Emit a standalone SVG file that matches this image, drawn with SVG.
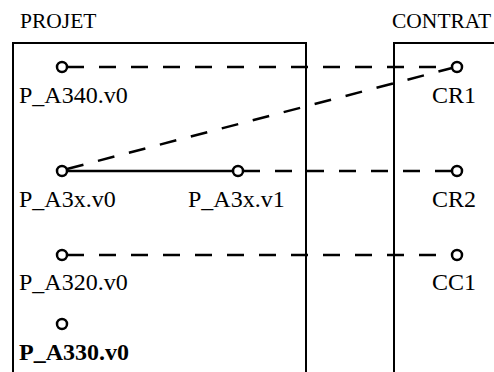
<svg xmlns="http://www.w3.org/2000/svg" width="494" height="372" viewBox="0 0 494 372">
<style>
text{font-family:"Liberation Serif","Times New Roman",serif;font-size:24px;fill:#000}
.title{font-size:21.5px}
.b{font-weight:bold}
.box{fill:none;stroke:#000;stroke-width:2}
.pt{fill:#fff;stroke:#000;stroke-width:2.5}
.dash{stroke:#000;stroke-width:2.5;fill:none;stroke-dasharray:17 15}
.solid{stroke:#000;stroke-width:2.5;fill:none}
</style>
<rect width="494" height="372" fill="#fff"/>
<g id="projet">
<text class="title" x="20" y="28">PROJET</text>
<polyline class="box" points="13,372 13,43 306,43 306,372"/>
</g>
<g id="contrat">
<text class="title" x="392" y="28">CONTRAT</text>
<polyline class="box" points="394,372 394,43 500,43"/>
</g>
<g id="connectors">
<line class="dash" x1="67" y1="67" x2="452" y2="67"/>
<line class="dash" x1="67" y1="169" x2="452" y2="68"/>
<line class="solid" x1="67" y1="171" x2="233" y2="171"/>
<line class="dash" x1="243" y1="171" x2="452" y2="171"/>
<line class="dash" x1="67" y1="255" x2="452" y2="255"/>
</g>
<g id="P_A340.v0"><circle class="pt" cx="62" cy="67" r="5"/><text x="19" y="103">P_A340.v0</text></g>
<g id="CR1"><circle class="pt" cx="457" cy="67" r="5"/><text x="432" y="103">CR1</text></g>
<g id="P_A3x.v0"><circle class="pt" cx="62" cy="171" r="5"/><text x="19" y="207">P_A3x.v0</text></g>
<g id="P_A3x.v1"><circle class="pt" cx="238" cy="171" r="5"/><text x="188" y="207">P_A3x.v1</text></g>
<g id="CR2"><circle class="pt" cx="457" cy="171" r="5"/><text x="432" y="207">CR2</text></g>
<g id="P_A320.v0"><circle class="pt" cx="62" cy="255" r="5"/><text x="19" y="290">P_A320.v0</text></g>
<g id="CC1"><circle class="pt" cx="457" cy="255" r="5"/><text x="432" y="290">CC1</text></g>
<g id="P_A330.v0"><circle class="pt" cx="62" cy="324" r="5"/><text class="b" x="19" y="360">P_A330.v0</text></g>
</svg>
